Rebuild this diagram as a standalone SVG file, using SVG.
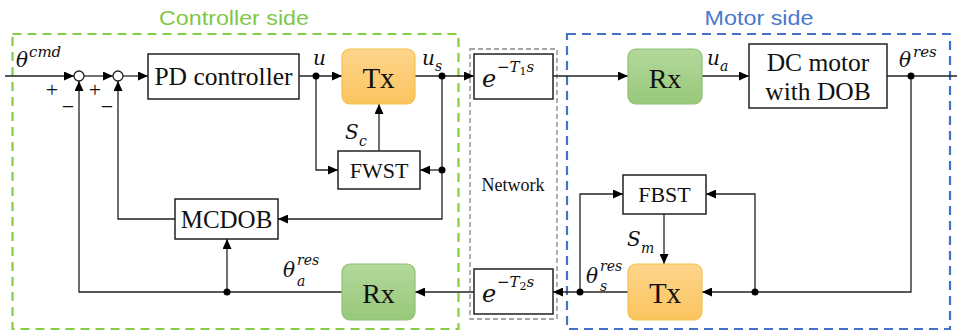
<svg xmlns="http://www.w3.org/2000/svg" width="957" height="336" viewBox="0 0 957 336">
<defs>
<marker id="ah" markerUnits="userSpaceOnUse" markerWidth="11" markerHeight="9" refX="10" refY="4.5" orient="auto">
<path d="M0,0 L10,4.5 L0,9 Z" fill="#000"/>
</marker>
<linearGradient id="orange" x1="0" y1="0" x2="0" y2="1">
<stop offset="0" stop-color="#fdd58c"/>
<stop offset="1" stop-color="#fbc45e"/>
</linearGradient>
<linearGradient id="green" x1="0" y1="0" x2="0" y2="1">
<stop offset="0" stop-color="#b3d89b"/>
<stop offset="1" stop-color="#98c87a"/>
</linearGradient>
<style>
.box{fill:#fff;stroke:#222;stroke-width:1.5}
.tx{fill:url(#orange);stroke:#f4c24e;stroke-width:1.2}
.rx{fill:url(#green);stroke:#8fc072;stroke-width:1.2}
.lbl{font-family:"Liberation Serif",serif;fill:#111;text-anchor:middle}
.math{font-family:"DejaVu Serif",serif;font-style:italic;fill:#111}
.sign{font-family:"Liberation Serif",serif;fill:#111;text-anchor:middle;font-size:22px}
.conn path{fill:none;stroke:#222;stroke-width:1.3}
.arr{marker-end:url(#ah)}
.dot{fill:#000}
.title{font-family:"Liberation Sans",Arial,sans-serif;font-size:21px;text-anchor:middle}
</style>
</defs>
<rect width="957" height="336" fill="#fff"/>

<!-- region frames -->
<g id="controller-side">
<rect x="12.5" y="34" width="446" height="295" fill="none" stroke="#86cc45" stroke-width="2.2" stroke-dasharray="9,6"/>
<text class="title" x="234" y="25" fill="#7fc845" textLength="150" lengthAdjust="spacingAndGlyphs">Controller side</text>
</g>
<g id="network">
<rect x="470" y="49" width="87" height="270" fill="none" stroke="#888" stroke-width="1.3" stroke-dasharray="5,3"/>
<text class="lbl" x="513" y="191" font-size="18">Network</text>
</g>
<g id="motor-side">
<rect x="567" y="34" width="383" height="295" fill="none" stroke="#4472c4" stroke-width="2.2" stroke-dasharray="9,6"/>
<text class="title" x="759" y="25" fill="#4a78cc" textLength="109" lengthAdjust="spacingAndGlyphs">Motor side</text>
</g>

<!-- connectors -->
<g id="connectors" class="conn">
<path class="arr" d="M5,76 H74"/>
<path class="arr" d="M84,76 H113"/>
<path class="arr" d="M123,76 H148"/>
<path class="arr" d="M299,76 H342"/>
<path class="arr" d="M415,76 H474"/>
<path class="arr" d="M553,76 H628"/>
<path class="arr" d="M702,76 H749"/>
<path d="M887,76 H957"/>
<path class="arr" d="M911,76 V292 H702"/>
<path class="arr" d="M755,292 V194 H706"/>
<path class="arr" d="M664,214 V264"/>
<path class="arr" d="M628,292 H553"/>
<path class="arr" d="M580,292 V194 H623"/>
<path class="arr" d="M474,292 H415"/>
<path class="arr" d="M342,292 H79 V81"/>
<path class="arr" d="M227,292 V239"/>
<path class="arr" d="M442,76 V219 H278"/>
<path class="arr" d="M442,170 H420"/>
<path class="arr" d="M316,76 V170 H338"/>
<path class="arr" d="M379,151 V104"/>
<path class="arr" d="M175,219 H118 V81"/>
<circle class="dot" cx="316" cy="76" r="3.5"/>
<circle class="dot" cx="442" cy="76" r="3.5"/>
<circle class="dot" cx="442" cy="170" r="3.5"/>
<circle class="dot" cx="911" cy="76" r="3.5"/>
<circle class="dot" cx="755" cy="292" r="3.5"/>
<circle class="dot" cx="580" cy="292" r="3.5"/>
<circle class="dot" cx="227" cy="292" r="3.5"/>
</g>

<!-- nodes -->
<g id="sum1">
<circle cx="79" cy="76" r="5" fill="#fff" stroke="#222" stroke-width="1.3"/>
<text class="sign" x="52" y="97">+</text>
<text class="sign" x="68" y="114">−</text>
</g>
<g id="sum2">
<circle cx="118" cy="76" r="5" fill="#fff" stroke="#222" stroke-width="1.3"/>
<text class="sign" x="95" y="97">+</text>
<text class="sign" x="107" y="114">−</text>
</g>
<g id="pd-controller">
<rect class="box" x="148" y="54" width="151" height="45"/>
<text class="lbl" x="223.5" y="85" font-size="25.5">PD controller</text>
</g>
<g id="tx-controller">
<rect class="tx" x="342" y="49" width="73" height="55" rx="8"/>
<text class="lbl" x="378.5" y="88" font-size="29">Tx</text>
</g>
<g id="fwst">
<rect class="box" x="338" y="151" width="82" height="38"/>
<text class="lbl" x="379" y="178" font-size="22">FWST</text>
</g>
<g id="mcdob">
<rect class="box" x="175" y="199" width="103" height="40"/>
<text class="lbl" x="226.5" y="228" font-size="25">MCDOB</text>
</g>
<g id="rx-controller">
<rect class="rx" x="342" y="264" width="73" height="56" rx="8"/>
<text class="lbl" x="378.5" y="303" font-size="28">Rx</text>
</g>
<g id="delay1">
<rect class="box" x="474" y="54" width="79" height="45"/>
<text class="math" x="482" y="87" font-size="24">e</text>
<text class="math" x="497" y="72" font-size="15"><tspan font-style="normal">−</tspan>T<tspan font-size="11" font-style="normal" dy="3">1</tspan><tspan dy="-3">s</tspan></text>
</g>
<g id="delay2">
<rect class="box" x="474" y="269" width="79" height="45"/>
<text class="math" x="482" y="302" font-size="24">e</text>
<text class="math" x="497" y="287" font-size="15"><tspan font-style="normal">−</tspan>T<tspan font-size="11" font-style="normal" dy="3">2</tspan><tspan dy="-3">s</tspan></text>
</g>
<g id="rx-motor">
<rect class="rx" x="628" y="49" width="74" height="55" rx="8"/>
<text class="lbl" x="665" y="88" font-size="28">Rx</text>
</g>
<g id="dc-motor">
<rect class="box" x="749" y="44" width="138" height="64"/>
<text class="lbl" x="818" y="71" font-size="25.5">DC motor</text>
<text class="lbl" x="818" y="100" font-size="25.5">with DOB</text>
</g>
<g id="fbst">
<rect class="box" x="623" y="175" width="83" height="39"/>
<text class="lbl" x="664.5" y="202" font-size="22">FBST</text>
</g>
<g id="tx-motor">
<rect class="tx" x="628" y="264" width="74" height="56" rx="8"/>
<text class="lbl" x="665" y="303" font-size="29">Tx</text>
</g>

<!-- signal labels -->
<g id="labels">
<text class="math" x="16" y="67" font-size="20">θ</text>
<text class="math" x="29" y="57" font-size="15">cmd</text>
<text class="math" x="313" y="65" font-size="20">u</text>
<text class="math" x="422" y="65" font-size="20">u</text>
<text class="math" x="435" y="71" font-size="14">s</text>
<text class="math" x="345" y="139" font-size="20">S</text>
<text class="math" x="359" y="146" font-size="14">c</text>
<text class="math" x="707" y="65" font-size="20">u</text>
<text class="math" x="720" y="71" font-size="14">a</text>
<text class="math" x="899" y="67" font-size="20">θ</text>
<text class="math" x="913" y="57" font-size="15">res</text>
<text class="math" x="283" y="277" font-size="20">θ</text>
<text class="math" x="297" y="265" font-size="14">res</text>
<text class="math" x="297" y="286" font-size="14">a</text>
<text class="math" x="586" y="283" font-size="20">θ</text>
<text class="math" x="600" y="271" font-size="14">res</text>
<text class="math" x="600" y="291" font-size="14">s</text>
<text class="math" x="627" y="246" font-size="20">S</text>
<text class="math" x="641" y="253" font-size="14">m</text>
</g>
</svg>
